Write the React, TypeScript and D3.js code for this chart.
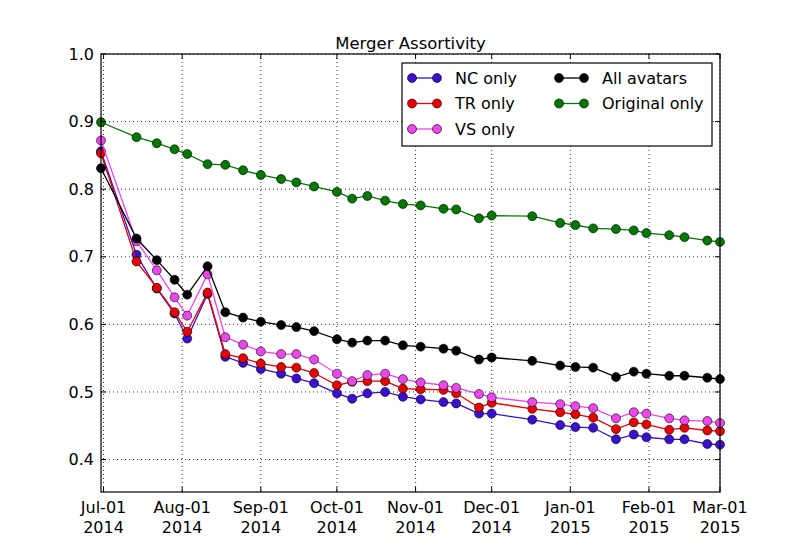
import * as d3 from "d3";
import React from "react";

// sampling dates (weekly-ish snapshots)
const dates = [
  "2014-06-30", "2014-07-14", "2014-07-22", "2014-07-29", "2014-08-03",
  "2014-08-11", "2014-08-18", "2014-08-25", "2014-09-01", "2014-09-09",
  "2014-09-15", "2014-09-22", "2014-10-01", "2014-10-07", "2014-10-13",
  "2014-10-20", "2014-10-27", "2014-11-03", "2014-11-12", "2014-11-17",
  "2014-11-26", "2014-12-01", "2014-12-17", "2014-12-28", "2015-01-03",
  "2015-01-10", "2015-01-19", "2015-01-26", "2015-01-31", "2015-02-09",
  "2015-02-15", "2015-02-24", "2015-03-01",
];

const ncOnly = [
  0.856, 0.703, 0.653, 0.616, 0.579, 0.645, 0.552, 0.543, 0.534, 0.527, 0.52,
  0.513, 0.498, 0.49, 0.498, 0.5, 0.493, 0.489, 0.485, 0.483, 0.468, 0.468,
  0.459, 0.451, 0.448, 0.447, 0.43, 0.437, 0.433, 0.43, 0.43, 0.423, 0.422,
];
const trOnly = [
  0.853, 0.693, 0.654, 0.618, 0.589, 0.647, 0.556, 0.55, 0.542, 0.537, 0.536,
  0.528, 0.51, 0.515, 0.516, 0.516, 0.505, 0.504, 0.503, 0.498, 0.477, 0.484,
  0.475, 0.47, 0.467, 0.462, 0.445, 0.455, 0.452, 0.444, 0.447, 0.443, 0.442,
];
const vsOnly = [
  0.872, 0.723, 0.68, 0.64, 0.613, 0.674, 0.581, 0.57, 0.56, 0.556, 0.556,
  0.548, 0.527, 0.516, 0.525, 0.527, 0.519, 0.514, 0.51, 0.506, 0.497, 0.492,
  0.485, 0.482, 0.479, 0.476, 0.461, 0.47, 0.468, 0.461, 0.458, 0.457, 0.454,
];
const allAvatars = [
  0.831, 0.727, 0.695, 0.666, 0.644, 0.686, 0.618, 0.61, 0.604, 0.599, 0.596,
  0.59, 0.578, 0.573, 0.576, 0.576, 0.569, 0.567, 0.564, 0.561, 0.548, 0.551,
  0.546, 0.539, 0.537, 0.536, 0.522, 0.53, 0.527, 0.524, 0.524, 0.521, 0.519,
];
const originalOnly = [
  0.899, 0.877, 0.868, 0.859, 0.852, 0.837, 0.836, 0.828, 0.821, 0.815, 0.81,
  0.804, 0.796, 0.786, 0.79, 0.783, 0.778, 0.776, 0.771, 0.77, 0.757, 0.761,
  0.76, 0.75, 0.747, 0.742, 0.741, 0.739, 0.735, 0.732, 0.729, 0.724, 0.722,
];

const seriesNames = ["NC only", "TR only", "VS only", "All avatars", "Original only"];
const seriesValues = [ncOnly, trOnly, vsOnly, allAvatars, originalOnly];
const seriesColors = ["#3a0fd0", "#e80000", "#ea48ea", "#000000", "#007800"];

const xTickDates = [
  "2014-07-01", "2014-08-01", "2014-09-01", "2014-10-01", "2014-11-01",
  "2014-12-01", "2015-01-01", "2015-02-01", "2015-03-01",
];
const yTickValues = [0.4, 0.5, 0.6, 0.7, 0.8, 0.9, 1.0];

export default function App({
  width = 800,
  height = 547,
  marginTop = 54,
  marginRight = 80,
  marginBottom = 55,
  marginLeft = 101,
}) {
  const parse = d3.utcParse("%Y-%m-%d");
  const xs = dates.map((d) => parse(d) as Date);
  const xScale = d3.scaleUtc(
    [parse("2014-06-30") as Date, parse("2015-03-01") as Date],
    [marginLeft, width - marginRight]
  );
  const yScale = d3.scaleLinear([0.352, 1.0], [height - marginBottom, marginTop]);
  const fmtTop = d3.utcFormat("%b-%d");
  const fmtYear = d3.utcFormat("%Y");

  const line = d3
    .line<number>()
    .x((_, i) => xScale(xs[i]))
    .y((d) => yScale(d));

  const x0 = marginLeft;
  const x1 = width - marginRight;
  const y0 = marginTop;
  const y1 = height - marginBottom;
  const font = "DejaVu Sans, sans-serif";

  return (
    <svg
      width={width}
      height={height}
      style={{ position: "absolute", left: 0, top: 0, background: "#fff" }}
      fontFamily={font}
    >
      <rect width={width} height={height} fill="#fff" />
      {/* grid */}
      <g stroke="#000" strokeWidth={0.8} strokeDasharray="1,3">
        {xTickDates.map((t) => (
          <line key={t} x1={xScale(parse(t) as Date)} x2={xScale(parse(t) as Date)} y1={y0} y2={y1} />
        ))}
        {yTickValues.map((v) => (
          <line key={v} x1={x0} x2={x1} y1={yScale(v)} y2={yScale(v)} />
        ))}
      </g>

      {/* series */}
      {seriesValues.map((vals, i) => (
        <g key={seriesNames[i]}>
          <path d={line(vals) ?? ""} fill="none" stroke={seriesColors[i]} strokeWidth={1.3} />
          {vals.map((v, j) => (
            <circle
              key={j}
              cx={xScale(xs[j])}
              cy={yScale(v)}
              r={4.5}
              fill={seriesColors[i]}
              stroke="#000"
              strokeWidth={0.6}
            />
          ))}
        </g>
      ))}

      {/* frame + ticks */}
      <rect x={x0} y={y0} width={x1 - x0} height={y1 - y0} fill="none" stroke="#000" strokeWidth={1.2} />
      <g stroke="#000" strokeWidth={1}>
        {xTickDates.map((t) => {
          const x = xScale(parse(t) as Date);
          return (
            <g key={t}>
              <line x1={x} x2={x} y1={y1} y2={y1 - 5} />
              <line x1={x} x2={x} y1={y0} y2={y0 + 5} />
            </g>
          );
        })}
        {yTickValues.map((v) => (
          <g key={v}>
            <line x1={x0} x2={x0 + 5} y1={yScale(v)} y2={yScale(v)} />
            <line x1={x1} x2={x1 - 5} y1={yScale(v)} y2={yScale(v)} />
          </g>
        ))}
      </g>

      {/* y tick labels */}
      <g fontSize={16} textAnchor="end" fill="#000">
        {yTickValues.map((v) => (
          <text key={v} x={x0 - 7} y={yScale(v)} dy="0.35em">
            {v.toFixed(1)}
          </text>
        ))}
      </g>

      {/* x tick labels */}
      <g fontSize={16} textAnchor="middle" fill="#000">
        {xTickDates.map((t) => {
          const d = parse(t) as Date;
          return (
            <text key={t} x={xScale(d)} y={y1 + 21}>
              <tspan x={xScale(d)}>{fmtTop(d)}</tspan>
              <tspan x={xScale(d)} dy={20}>{fmtYear(d)}</tspan>
            </text>
          );
        })}
      </g>

      {/* title */}
      <text x={(x0 + x1) / 2} y={y0 - 5} textAnchor="middle" fontSize={16.5}>
        Merger Assortivity
      </text>

      {/* legend */}
      <g>
        <rect x={402} y={63} width={310} height={83} fill="#fff" stroke="#000" strokeWidth={1.2} />
        {seriesNames.map((name, i) => {
          const col = i < 3 ? 0 : 1;
          const row = i < 3 ? i : i - 3;
          const lx = col === 0 ? 412 : 559;
          const ly = 78 + row * 25.5;
          return (
            <g key={name}>
              <line x1={lx} x2={lx + 25} y1={ly} y2={ly} stroke={seriesColors[i]} strokeWidth={1.3} />
              {[lx, lx + 25].map((cx) => (
                <circle key={cx} cx={cx} cy={ly} r={4.5} fill={seriesColors[i]} stroke="#000" strokeWidth={0.6} />
              ))}
              <text x={lx + 43} y={ly} dy="0.35em" fontSize={16}>
                {name}
              </text>
            </g>
          );
        })}
      </g>
    </svg>
  );
}
